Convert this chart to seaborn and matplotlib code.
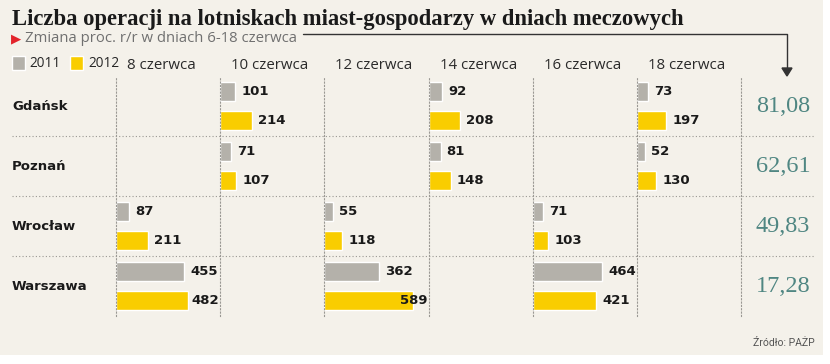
import numpy as np
import pandas as pd
import matplotlib
matplotlib.use("Agg")
import matplotlib.pyplot as plt
from matplotlib.patches import Rectangle
import seaborn as sns

# --- data ---
cities = ["Gdańsk", "Poznań", "Wrocław", "Warszawa"]
days = ["8 czerwca", "10 czerwca", "12 czerwca", "14 czerwca", "16 czerwca", "18 czerwca"]
years = ["2011", "2012"]

# which day each city played, and flight operations (2011, 2012)
gdansk = {"10 czerwca": (101, 214), "14 czerwca": (92, 208), "18 czerwca": (73, 197)}
poznan = {"10 czerwca": (71, 107), "14 czerwca": (81, 148), "18 czerwca": (52, 130)}
wroclaw = {"8 czerwca": (87, 211), "12 czerwca": (55, 118), "16 czerwca": (71, 103)}
warszawa = {"8 czerwca": (455, 482), "12 czerwca": (362, 589), "16 czerwca": (464, 421)}
change_pct = ["81,08", "62,61", "49,83", "17,28"]

colors = {"2011": "#b4b1aa", "2012": "#f9cd00"}
bg = "#f4f1ea"

rows = []
for city, d in zip(cities, [gdansk, poznan, wroclaw, warszawa]):
    for day, vals in d.items():
        for yr, v in zip(years, vals):
            rows.append({"city": city, "day": day, "year": yr, "ops": v})
df = pd.DataFrame(rows)

# --- figure ---
W, H = 830, 364
fig = plt.figure(figsize=(W / 100, H / 100), dpi=100, facecolor="white")
fig.patches.append(Rectangle((0, 9 / H), 823 / W, 1 - 9 / H, transform=fig.transFigure,
                             facecolor=bg, edgecolor="none", zorder=-9))

def fx(px):
    return px / W

def fy(py):
    return 1 - py / H

grid_top, grid_bot = 76, 316
col_left, col_right = 116, 741
col_w = (col_right - col_left) / len(days)
xmax = 693
dot = (0, (1, 2))
dotc = "#9a9893"

# background axes for horizontal separators and row labels
bax = fig.add_axes([fx(12), fy(grid_bot), fx(815 - 12), (grid_bot - grid_top) / H])
bax.set_xlim(12, 815)
bax.set_ylim(len(cities) - 0.5, -0.5)
bax.axis("off")
for b in np.arange(0.5, len(cities) - 0.5, 1):
    bax.axhline(b, color=dotc, lw=0.8, ls=dot)
for i, c in enumerate(cities):
    bax.text(12, i, c, ha="left", va="center", fontsize=9.5, fontweight="bold",
             family="DejaVu Sans", color="#1a1a1a")
    bax.text(783, i, change_pct[i], ha="center", va="center",
             fontsize=17.5, family="Liberation Serif", color="#4f8682")

sns.set_style("white")
handles = labels = None
for k, day in enumerate(days):
    ax = fig.add_axes([fx(col_left + k * col_w), fy(grid_bot), col_w / W,
                       (grid_bot - grid_top) / H])
    ax.set_facecolor("none")
    sub = df[df.day == day]
    sns.barplot(data=sub, y="city", x="ops", hue="year", order=cities, hue_order=years,
                palette=colors, orient="h", width=0.95, gap=0.32, saturation=1,
                errorbar=None, ax=ax, legend=(k == 0))
    if k == 0:
        handles, labels = ax.get_legend_handles_labels()
        ax.get_legend().remove()
    ax.set_xlim(0, xmax)
    ax.set_ylim(len(cities) - 0.5, -0.5)
    ax.set_xlabel("")
    ax.set_ylabel("")
    ax.set_xticks([])
    ax.set_yticks([])
    for s in ["top", "bottom", "right"]:
        ax.spines[s].set_visible(False)
    ax.spines["left"].set_linestyle(dot)
    ax.spines["left"].set_color(dotc)
    ax.spines["left"].set_linewidth(0.8)
    if k == len(days) - 1:
        ax.spines["right"].set_visible(True)
        ax.spines["right"].set_linestyle(dot)
        ax.spines["right"].set_color(dotc)
        ax.spines["right"].set_linewidth(0.8)
    for cont in ax.containers:
        for bar in cont:
            v = bar.get_width()
            if not np.isfinite(v) or v <= 0:
                continue
            yc = bar.get_y() + bar.get_height() / 2
            ax.text(min(v + 40, xmax - 190), yc, f"{int(round(v))}", ha="left",
                    va="center", fontsize=9.5, fontweight="bold", family="DejaVu Sans",
                    color="#1a1a1a")
    ax.annotate(day, xy=(0, 1), xycoords="axes fraction", xytext=(11, 7),
                textcoords="offset pixels", ha="left", va="baseline", fontsize=10.8,
                family="Open Sans", color="#2a2a2a")

# legend
fig.legend(handles, labels, loc="center left", bbox_to_anchor=(fx(12), fy(63.5)),
           ncol=2, frameon=False, handlelength=0.95, handleheight=1.3,
           handletextpad=0.35, columnspacing=0.7, borderpad=0, borderaxespad=0,
           prop={"family": "Open Sans", "size": 9.8})

# title and subtitle
fig.text(fx(12), fy(25), "Liczba operacji na lotniskach miast-gospodarzy w dniach meczowych",
         ha="left", va="baseline", fontsize=16.3, fontweight="bold",
         family="Liberation Serif", color="#1a1a1a")
fig.text(fx(11), fy(42), "▶", ha="left", va="baseline", fontsize=9.5,
         family="DejaVu Sans", color="#e3242b")
fig.text(fx(25), fy(42), "Zmiana proc. r/r w dniach 6-18 czerwca", ha="left",
         va="baseline", fontsize=10.7, family="Open Sans", color="#707070")

# connector line with arrow to the change column
fig.add_artist(plt.Line2D([fx(303), fx(787), fx(787)], [fy(34), fy(34), fy(70)],
                          transform=fig.transFigure, color="#333333", lw=1))
fig.add_artist(plt.Polygon([[fx(782), fy(68)], [fx(792), fy(68)], [fx(787), fy(76)]],
                           closed=True, transform=fig.transFigure, color="#333333"))

fig.text(fx(815), fy(346), "Źródło: PAŻP", ha="right", va="baseline", fontsize=7.5,
         family="Roboto", color="#555555")

fig.savefig("out.png", dpi=100, facecolor="white")
